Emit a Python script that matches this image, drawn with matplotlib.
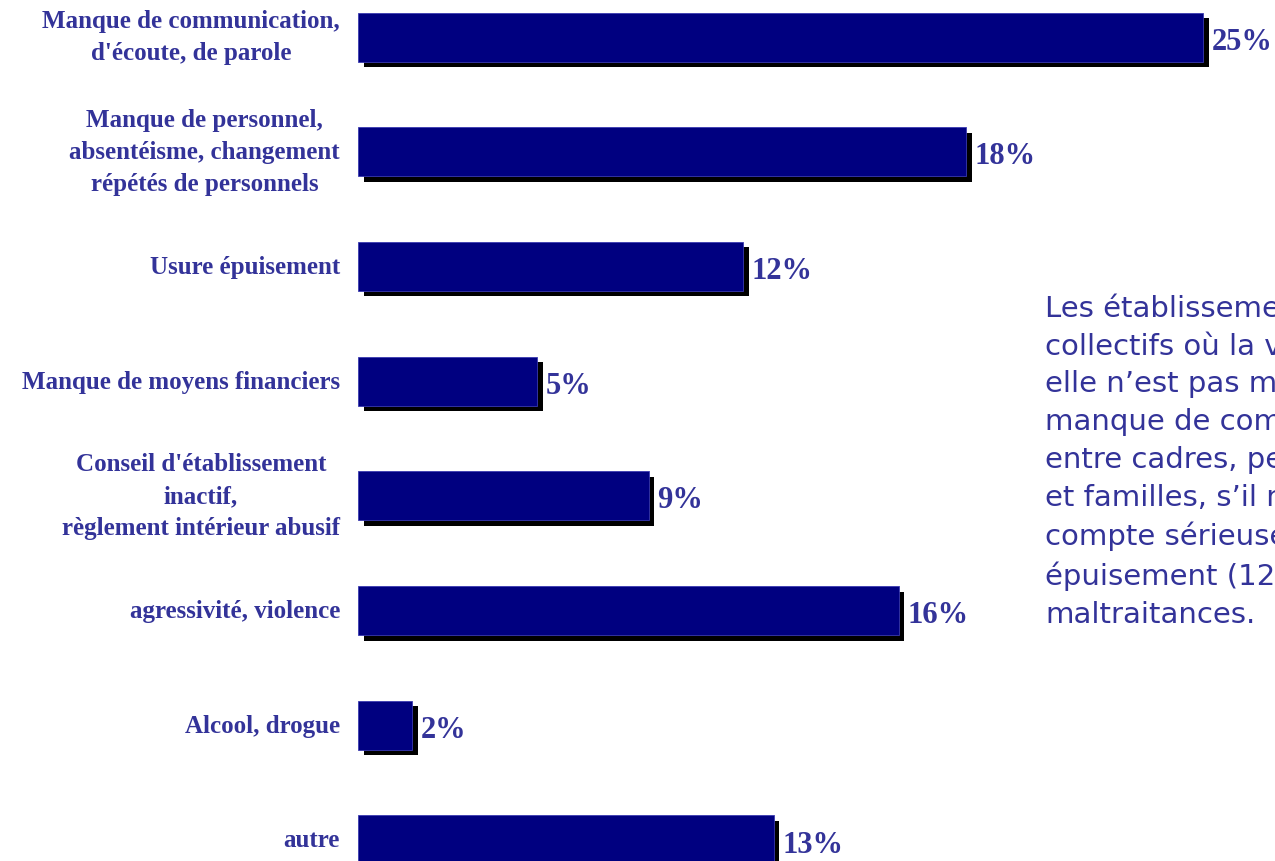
import matplotlib
matplotlib.use("Agg")
import matplotlib.pyplot as plt
import matplotlib.patheffects as pe

# ── data ──────────────────────────────────────────────────────────────────────
categories = [
    "Manque de communication,\nd'écoute, de parole",
    "Manque de personnel,\nabsentéisme, changement\nrépétés de personnels",
    "Usure épuisement",
    "Manque de moyens financiers",
    "Conseil d'établissement\ninactif,\nrèglement intérieur abusif",
    "agressivité, violence",
    "Alcool, drogue",
    "autre",
]
values = [25, 18, 11.4, 5.3, 8.6, 16, 1.6, 12.3]      # bar lengths as drawn
value_labels = ["25%", "18%", "12%", "5%", "9%", "16%", "2%", "13%"]

side_text = [
    "Les établisseme",
    "collectifs où la v",
    "elle n’est pas mi",
    "manque de comm",
    "entre cadres, pe",
    "et familles, s’il n",
    "compte sérieuse",
    "épuisement (12%",
    "maltraitances.",
]

NAVY = "#000080"
TXT = "#333399"

W, H = 1275, 862
X0 = 358            # px where bars start
PX_PER_UNIT = 33.8
Y0, DY = 38, 114.7  # first bar centre, spacing (px)

fig = plt.figure(figsize=(W / 100, H / 100), dpi=100)
ax = fig.add_axes([X0 / W, 0, 1 - X0 / W, 1])
ax.set_xlim(0, (W - X0) / PX_PER_UNIT)
ax.set_ylim((H - Y0) / DY, -Y0 / DY)
ax.axis("off")

ypos = list(range(len(values)))
bars = ax.barh(ypos, values, height=49 / DY, color=NAVY, edgecolor="#3a3ab0",
               linewidth=0.6, clip_on=False)
for b in bars:
    b.set_path_effects([pe.SimplePatchShadow(offset=(4, -4), shadow_rgbFace="black", alpha=1),
                        pe.Normal()])

for y, v, lab in zip(ypos, values, value_labels):
    ax.annotate(lab, xy=(v, y), xytext=(6, -3), textcoords="offset points",
                ha="left", va="center", fontsize=22, fontweight="bold",
                family="Liberation Serif", color=TXT)

for y, cat in zip(ypos, categories):
    ax.annotate(cat, xy=(0, y), xytext=(-13, 0), textcoords="offset points",
                ha="right", va="center", multialignment="center",
                fontsize=18, fontweight="bold", family="Liberation Serif",
                color=TXT, linespacing=1.5, annotation_clip=False)

fig.text(1045 / W, 1 - 462 / H, "\n".join(side_text), ha="left", va="center",
         fontsize=21, family="DejaVu Sans", color=TXT, linespacing=1.44)

fig.savefig("out.png", dpi=100)
